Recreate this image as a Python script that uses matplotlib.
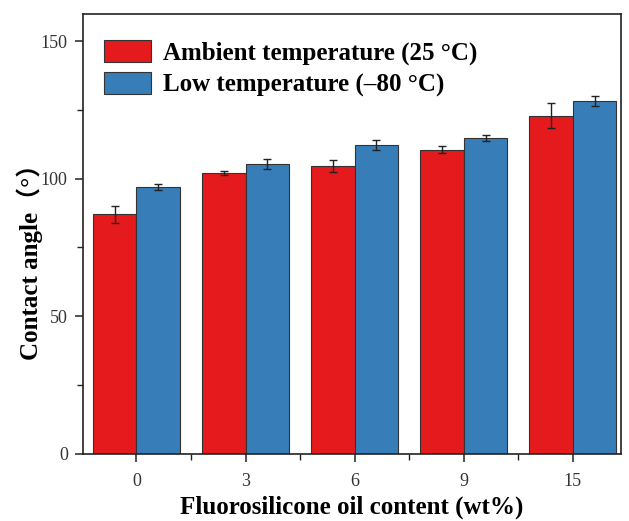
import matplotlib.pyplot as plt
import numpy as np

plt.rcParams['font.family'] = ['Liberation Serif', 'Noto Sans CJK SC']

# fluorosilicone oil loading (wt%)
contents = ["0", "3", "6", "9", "15"]

# contact angle, mean and std
ambient = [87.0, 102.1, 104.5, 110.5, 122.9]
ambient_err = [3.2, 0.8, 2.2, 1.2, 4.6]
low_temp = [97.0, 105.4, 112.3, 114.9, 128.2]
low_temp_err = [1.0, 1.9, 1.9, 1.1, 1.7]

red = "#E41A1C"
blue = "#377EB8"

fig = plt.figure(figsize=(6.29, 5.21), dpi=100)
ax = fig.add_axes([0.132, 0.129, 0.855, 0.845])

x = np.arange(len(contents))
w = 0.40
err_kw = dict(ecolor="#222222", elinewidth=1.0, capsize=3.2, capthick=1.0)
ax.bar(x - w / 2, ambient, w, yerr=ambient_err, color=red, edgecolor="#333333",
       linewidth=0.8, error_kw=err_kw, label="Ambient temperature (25 °C)")
ax.bar(x + w / 2, low_temp, w, yerr=low_temp_err, color=blue, edgecolor="#333333",
       linewidth=0.8, error_kw=err_kw, label="Low temperature (–80 °C)")

ax.set_xlim(-0.49, 4.44)
ax.set_ylim(0, 160)
ax.set_xticks(x)
ax.set_xticklabels(contents)
ax.set_xticks(x[:-1] + 0.5, minor=True)
ax.set_yticks([0, 50, 100, 150])
ax.set_yticks([25, 75, 125], minor=True)
ax.tick_params(which="major", length=6, width=1.1, labelsize=13,
               colors="#222222", labelcolor="#333333")
ax.tick_params(which="minor", length=4, width=1.0, colors="#222222")
ax.tick_params(axis="x", pad=8)
ax.tick_params(axis="y", pad=5)
for s in ax.spines.values():
    s.set_linewidth(1.2)
    s.set_color("#222222")

ax.set_xlabel("Fluorosilicone oil content (wt%)", fontsize=18, fontweight="bold", labelpad=4)
ax.set_ylabel("Contact angle（°）", fontsize=18, fontweight="bold")
ax.yaxis.set_label_coords(-0.075, 0.45)

ax.legend(loc="upper left", bbox_to_anchor=(0.012, 0.975), frameon=False,
          prop=dict(size=18, weight="bold"), handlelength=1.85, handleheight=0.98,
          handletextpad=0.5, labelspacing=0.3, borderaxespad=0.2)

fig.savefig("out.png", dpi=100)
